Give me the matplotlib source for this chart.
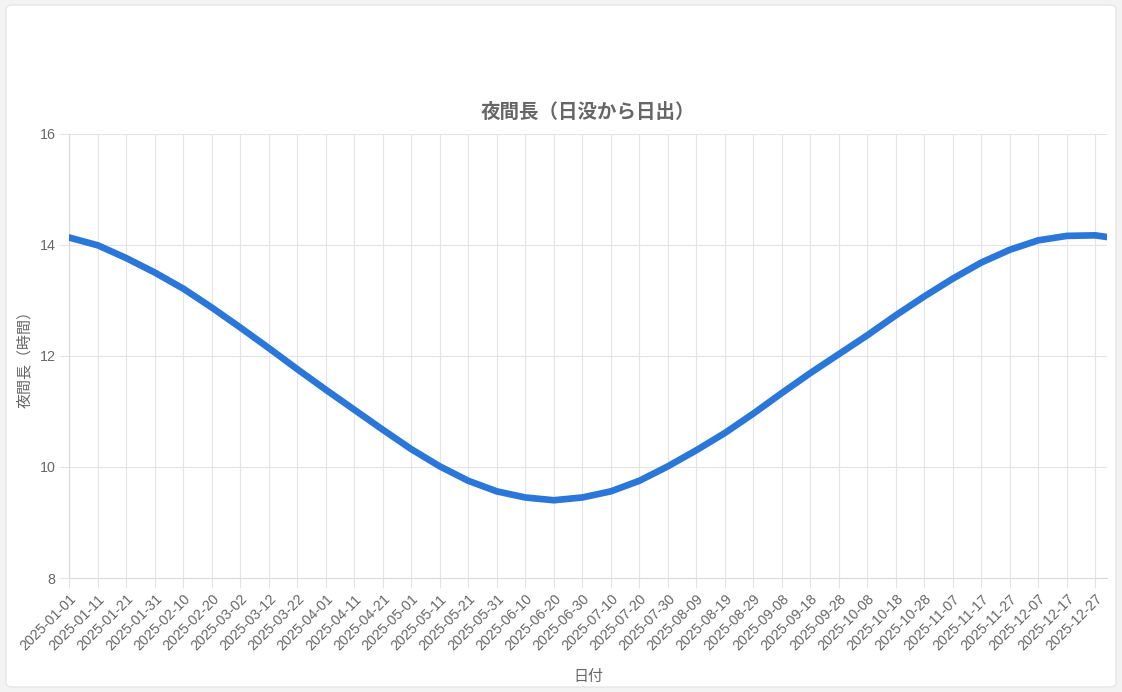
import matplotlib
matplotlib.use("Agg")
import matplotlib.pyplot as plt
import numpy as np
import pandas as pd
from matplotlib.patches import FancyBboxPatch

plt.rcParams['font.family'] = ['Liberation Sans', 'Noto Sans CJK JP', 'DejaVu Sans']

# night length (hours), every 10 days + last day
dates = ["2025-01-01", "2025-01-11", "2025-01-21", "2025-01-31", "2025-02-10",
         "2025-02-20", "2025-03-02", "2025-03-12", "2025-03-22", "2025-04-01",
         "2025-04-11", "2025-04-21", "2025-05-01", "2025-05-11", "2025-05-21",
         "2025-05-31", "2025-06-10", "2025-06-20", "2025-06-30", "2025-07-10",
         "2025-07-20", "2025-07-30", "2025-08-09", "2025-08-19", "2025-08-29",
         "2025-09-08", "2025-09-18", "2025-09-28", "2025-10-08", "2025-10-18",
         "2025-10-28", "2025-11-07", "2025-11-17", "2025-11-27", "2025-12-07",
         "2025-12-17", "2025-12-27", "2025-12-31"]
night_hours = [14.13, 13.99, 13.76, 13.50, 13.21, 12.87, 12.51, 12.14, 11.76, 11.39,
               11.03, 10.67, 10.32, 10.01, 9.75, 9.56, 9.45, 9.40, 9.45, 9.56,
               9.75, 10.01, 10.30, 10.61, 10.96, 11.33, 11.69, 12.03, 12.37, 12.73,
               13.07, 13.39, 13.68, 13.91, 14.08, 14.16, 14.17, 14.14]

all_days = pd.date_range("2025-01-01", "2025-12-31", freq="D")
tick_labels = [d.strftime("%Y-%m-%d") for d in all_days[::10]]

day_idx = [all_days.get_loc(pd.Timestamp(d)) for d in dates]

W, H = 1122, 692
fig = plt.figure(figsize=(W / 100, H / 100), dpi=100)
fig.patch.set_facecolor('#f3f3f3')

card = FancyBboxPatch((6 / W, 5 / H), 1110 / W, 682 / H,
                      boxstyle="round,pad=0,rounding_size=0.006",
                      transform=fig.transFigure, facecolor='white',
                      edgecolor='#e6e6e6', linewidth=1, zorder=-10)
fig.patches.append(card)

left, right, top, bottom = 69.3, 1106.7, 133.7, 578
ax = fig.add_axes([left / W, 1 - bottom / H, (right - left) / W, (bottom - top) / H])
ax.set_zorder(1)
ax.set_facecolor('white')

grid_c = '#e4e4e4'
ax.plot(day_idx, night_hours, color='#2a77d9', lw=4.8,
        solid_capstyle='round', solid_joinstyle='round', zorder=3)

ax.set_xlim(0, len(all_days) - 1)
ax.set_ylim(8, 16)
ax.set_yticks([8, 10, 12, 14, 16])
ax.set_xticks(np.arange(0, len(all_days), 10))
ax.set_xticklabels(tick_labels, rotation=45, ha='right', rotation_mode='anchor')

ax.grid(True, color=grid_c, lw=0.8)
ax.set_axisbelow(True)
for s in ax.spines.values():
    s.set_visible(False)
ax.spines['left'].set_visible(True)
ax.spines['bottom'].set_visible(True)
ax.spines['left'].set_color('#d9d9d9')
ax.spines['bottom'].set_color('#d9d9d9')
ax.tick_params(axis='both', colors=grid_c, length=7, width=0.8,
               labelcolor='#666666', labelsize=10.3, pad=3)

ax.set_title("夜間長（日没から日出）", fontsize=14, fontweight='bold',
             color='#666666', pad=11, family=['Noto Sans CJK JP', 'DejaVu Sans'])
ax.set_ylabel("夜間長（時間）", fontsize=10.8, color='#666666', labelpad=5,
              family=['Noto Sans CJK JP', 'DejaVu Sans'])
ax.set_xlabel("日付", fontsize=10.8, color='#666666', labelpad=12,
              family=['Noto Sans CJK JP', 'DejaVu Sans'])

fig.savefig("out.png", dpi=100)
